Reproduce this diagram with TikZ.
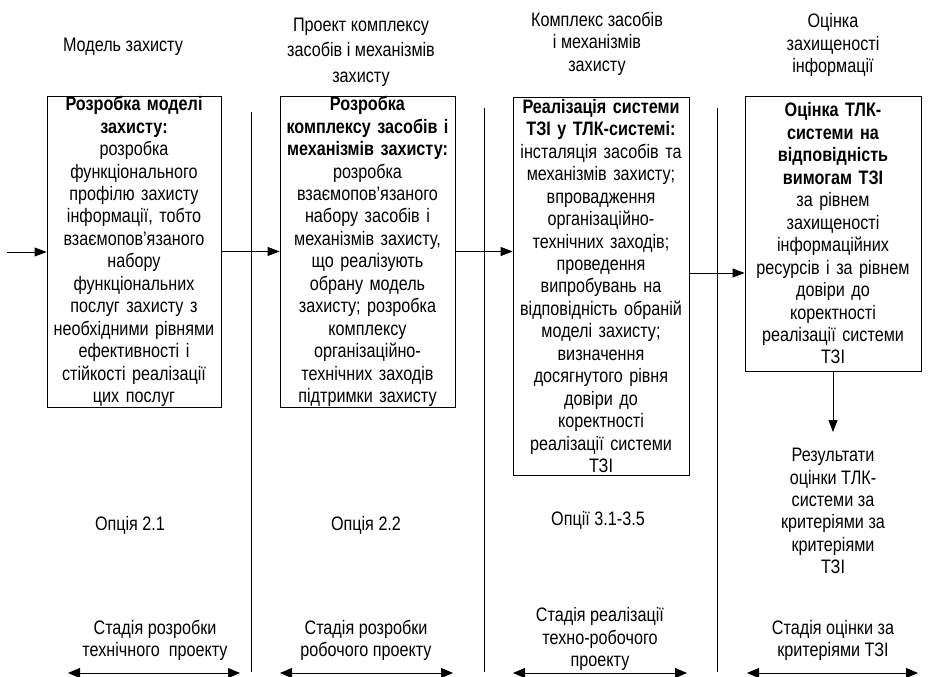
\documentclass[tikz,border=0pt]{standalone}
\usepackage{fontspec}
\setmainfont{Liberation Sans}[FakeStretch=0.83]
\usetikzlibrary{arrows.meta}
\begin{document}
\begin{tikzpicture}[x=1pt,y=-1pt,
  txt/.style={font=\fontsize{19.5}{22.45}\selectfont, align=center, inner sep=0pt},
  stagebox/.style={txt, draw, line width=0.8pt, inner xsep=2pt, inner ysep=0pt},
  arr/.style={line width=0.8pt, -{Triangle[length=12pt,width=9pt]}},
  arr2/.style={line width=0.8pt, {Triangle[length=12pt,width=10pt]}-{Triangle[length=12pt,width=10pt]}},
  sepline/.style={line width=0.8pt}
]
\useasboundingbox (0,0) rectangle (943,677);

% headings above the columns
\node[txt] (h1) at (123,47) {Модель захисту};
\node[txt, font=\fontsize{19.5}{25.5}\selectfont] (h2) at (361,52) {Проект комплексу\\засобів і механізмів\\захисту};
\node[txt] (h3) at (597,43.5) {Комплекс засобів\\і механізмів\\захисту};
\node[txt] (h4) at (833,45) {Оцінка\\захищеності\\інформації};

% stage boxes
\node[stagebox, text width=170pt, minimum height=311pt] (b1) at (134,251.5)
  {\textbf{Розробка моделі}\\\textbf{захисту:}\\розробка\\функціонального\\профілю захисту\\інформації, тобто\\взаємопов’язаного\\набору\\функціональних\\послуг захисту з\\необхідними рівнями\\ефективності і\\стійкості реалізації\\цих послуг};
\node[stagebox, text width=171pt, minimum height=311pt] (b2) at (367.5,251.5)
  {\textbf{Розробка}\\\textbf{комплексу засобів і}\\\textbf{механізмів захисту:}\\розробка\\взаємопов’язаного\\набору засобів і\\механізмів захисту,\\що реалізують\\обрану модель\\захисту; розробка\\комплексу\\організаційно-\\технічних заходів\\підтримки захисту};
\node[stagebox, text width=172pt, minimum height=378pt] (b3) at (601,286)
  {\textbf{Реалізація системи}\\\textbf{ТЗІ у ТЛК-системі:}\\інсталяція засобів та\\механізмів захисту;\\впровадження\\організаційно-\\технічних заходів;\\проведення\\випробувань на\\відповідність обраній\\моделі захисту;\\визначення\\досягнутого рівня\\довіри до\\коректності\\реалізації системи\\ТЗІ};
\node[stagebox, text width=172pt, minimum height=275pt] (b4) at (833,233.5)
  {\textbf{Оцінка ТЛК-}\\\textbf{системи на}\\\textbf{відповідність}\\\textbf{вимогам ТЗІ}\\за рівнем\\захищеності\\інформаційних\\ресурсів і за рівнем\\довіри до\\коректності\\реалізації системи\\ТЗІ};

% evaluation result
\node[txt, anchor=north, inner ysep=16pt] (res) at (833,432)
  {Результати\\оцінки ТЛК-\\системи за\\критеріями за\\критеріями\\ТЗІ};

% option labels
\node[txt] (o1) at (130,525) {Опція 2.1};
\node[txt] (o2) at (366,525) {Опція 2.2};
\node[txt] (o3) at (598,520) {Опції 3.1-3.5};

% stage names
\node[txt] (s1) at (155,640.5) {Стадія розробки\\технічного\ \ проекту};
\node[txt] (s2) at (366,640.5) {Стадія розробки\\робочого проекту};
\node[txt] (s3) at (600,639) {Стадія реалізації\\техно-робочого\\проекту};
\node[txt] (s4) at (833,640.5) {Стадія оцінки за\\критеріями ТЗІ};

% column separators
\coordinate (v1t) at (251,112); \coordinate (v1b) at (251,672);
\coordinate (v2t) at (484,108); \coordinate (v2b) at (484,672);
\coordinate (v3t) at (717,108); \coordinate (v3b) at (717,672);
\draw[sepline] (v1t) -- (v1b);
\draw[sepline] (v2t) -- (v2b);
\draw[sepline] (v3t) -- (v3b);

% flow between stages
\coordinate (in) at (7,252);
\draw[arr] (in) -- (in -| b1.west);
\draw[arr] (b1.east) -- (b1.east -| b2.west);
\draw[arr] (b2.east) -- (b2.east -| b3.west);
\draw[arr] ([yshift=13pt]b3.east) -- ([yshift=13pt]b3.east -| b4.west);
\draw[arr] (b4.south) -- (res.north);

% stage spans
\coordinate (a1l) at (68,673);  \coordinate (a1r) at (240,673);
\coordinate (a2l) at (280,673); \coordinate (a2r) at (453,673);
\coordinate (a3l) at (513,673); \coordinate (a3r) at (687,673);
\coordinate (a4l) at (747,673); \coordinate (a4r) at (918,673);
\draw[arr2] (a1l) -- (a1r);
\draw[arr2] (a2l) -- (a2r);
\draw[arr2] (a3l) -- (a3r);
\draw[arr2] (a4l) -- (a4r);
\end{tikzpicture}
\end{document}
